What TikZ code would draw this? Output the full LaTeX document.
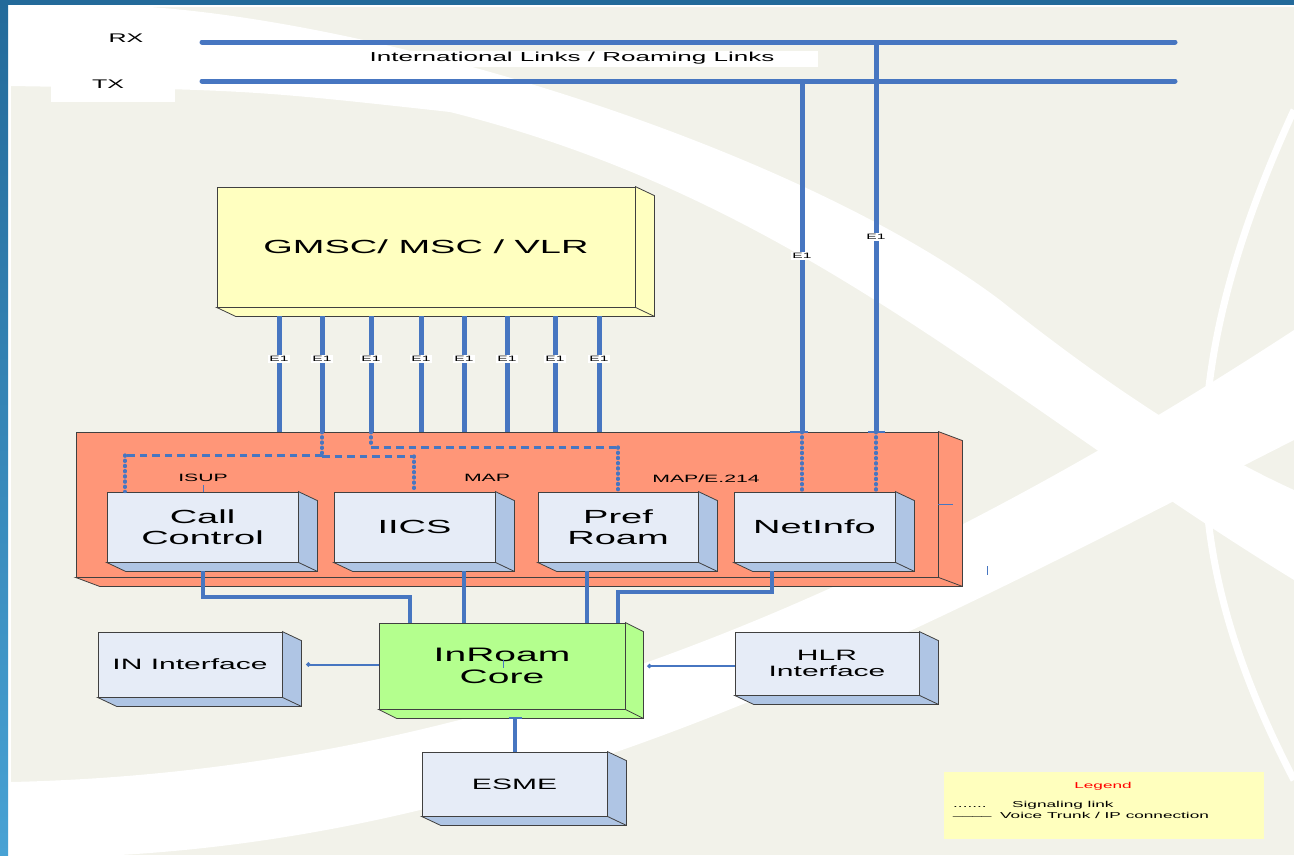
\documentclass[tikz,border=0pt]{standalone}
\usepackage{fontspec}
\setmainfont{Liberation Sans}[FakeStretch=2]
\usetikzlibrary{arrows.meta}
\definecolor{linkblue}{RGB}{71,118,193}
\definecolor{paper}{RGB}{242,242,234}
\definecolor{barblue}{RGB}{35,106,154}
\definecolor{barlight}{RGB}{72,162,212}
\definecolor{mscyellow}{RGB}{255,255,192}
\definecolor{salmon}{RGB}{255,150,120}
\definecolor{boxface}{RGB}{230,236,247}
\definecolor{boxside}{RGB}{175,197,228}
\definecolor{coregreen}{RGB}{180,255,142}
\definecolor{legendbg}{RGB}{255,255,190}
\newcommand{\sides}[3][19]{%
  \filldraw[fill=#3, draw=black!75, line width=0.8pt] (#2.north east) -- ([shift={(#1,9)}]#2.north east)
    -- ([shift={(#1,9)}]#2.south east) -- ([shift={(#1,9)}]#2.south west) -- (#2.south west) -- (#2.south east) -- cycle;
  \draw[black!75, line width=0.8pt] (#2.south east) -- ([shift={(#1,9)}]#2.south east);
  \coordinate (#2base) at ([yshift=-9pt]#2.south);}

\begin{document}
\begin{tikzpicture}[x=1pt,y=-1pt]
\tikzstyle{face}=[draw=black!75, line width=0.8pt, inner sep=0pt, align=center]
\tikzstyle{trunk}=[draw=linkblue, line width=5pt, line cap=round]
\tikzstyle{voice}=[draw=linkblue, line width=4pt]
\tikzstyle{thinlink}=[draw=linkblue, line width=2pt]
\tikzstyle{sigdot}=[draw=linkblue, line width=3.2pt, line cap=round, dash pattern=on 1.2pt off 4pt]
\tikzstyle{sigdash}=[draw=linkblue, line width=3pt, dash pattern=on 7.5pt off 5pt]
\tikzstyle{elabel}=[fill=white, inner sep=1.2pt, font=\fontsize{7.8}{8}\selectfont]
\tikzstyle{proto}=[font=\fontsize{10.6}{12}\selectfont]
\tikzstyle{bigtext}=[font=\fontsize{19}{21.5}\selectfont]
\tikzstyle{smalltext}=[font=\fontsize{15}{16.5}\selectfont]
\tikzstyle{note}=[font=\fontsize{8.6}{10}\selectfont, inner sep=0pt]
\tikzstyle{tick}=[draw=linkblue, line width=1pt]

\useasboundingbox (0,0) rectangle (1294,855);
\begin{scope}
\clip (0,0) rectangle (1294,855);
\fill[white] (0,0) rectangle (1294,855);
\fill[paper] (11,7) rectangle (1294,855);
\fill[white] (11,7) -- (150,7) .. controls (400,25) and (800,150) .. (1000,300)
  .. controls (1150,420) and (1250,470) .. (1294,490) -- (1294,580)
  .. controls (1000,400) and (800,200) .. (450,112) .. controls (250,90) .. (11,86) -- cycle;
\fill[white] (11,782) .. controls (450,772) and (850,620) .. (1294,330) -- (1294,440)
  .. controls (900,640) and (550,830) .. (120,855) -- (11,855) -- cycle;
\draw[white, line width=7pt] (1294,110) .. controls (1170,380) and (1180,560) .. (1294,780);
\fill[barblue] (0,0) rectangle (1294,5);
\shade[top color=barblue, bottom color=barlight] (0,0) rectangle (8,855);
\end{scope}

\fill[white] (51,80) rectangle (175,102);
\fill[white] (360,51) rectangle (818,67);
\node[font=\fontsize{12.5}{14}\selectfont] (rx) at (126,38) {RX};
\node[font=\fontsize{12.5}{14}\selectfont] (tx) at (108,84) {TX};
\node[font=\fontsize{13}{15}\selectfont] (intl) at (572,58) {International Links / Roaming Links};
\coordinate (rxw) at (202,42);
\coordinate (rxe) at (1175,42);
\coordinate (txw) at (202,81);
\coordinate (txe) at (1175,81);
\draw[trunk] (rxw) -- (rxe);
\draw[trunk] (txw) -- (txe);

\node[face, fill=mscyellow, minimum width=418, minimum height=120, font=\fontsize{19}{22}\selectfont] (gmsc) at (426,247) {GMSC/ MSC / VLR};
\sides{gmsc}{mscyellow}
\node[face, fill=salmon, minimum width=862, minimum height=145] (netbox) at (507,504.5) {};
\sides[24]{netbox}{salmon}

\foreach \name/\x/\w/\txt in {call/202.5/191/{Call\\Control}, iics/414.5/161/IICS, pref/618/160/{Pref\\Roam}, netinfo/814.5/161/NetInfo} {
  \node[face, bigtext, fill=boxface, minimum width=\w, minimum height=70] (\name) at (\x,527) {\txt};
  \sides{\name}{boxside}
}

\node[proto] (isup) at (203,478) {ISUP};
\node[proto] (map) at (487,478) {MAP};
\node[proto] (mape) at (706,479) {MAP/E.214};
\draw[tick] (isup.south) -- (call.north -| isup.south);

\foreach \x in {279,322,371,421,464,507,555,599} {
  \draw[trunk, line cap=butt] (gmscbase -| \x,0) -- (netbox.north -| \x,0) node[elabel, pos=.37] {E1};
}
\draw[trunk, line cap=butt] (txw -| 802,0) -- (netbox.north -| 802,0) node[elabel, pos=.5] {E1};
\draw[trunk, line cap=butt] (rxw -| 876,0) -- (netbox.north -| 876,0) node[elabel, pos=.5] {E1};
\draw[thinlink] ([xshift=-12pt]netbox.north -| 802,0) -- ++(18,0);
\draw[thinlink] ([xshift=-8pt]netbox.north -| 876,0) -- ++(17,0);

\draw[sigdot] (netbox.north -| 322,0) -- (322,455);
\draw[sigdash] (322,455) -- (125,455);
\draw[sigdot] (125,455) -- (call.north -| 125,0);
\draw[sigdash] (322,456) -- (414,456);
\draw[sigdot] (414,456) -- (iics.north -| 414,0);
\draw[sigdot] (netbox.north -| 371,0) -- (371,447);
\draw[sigdash] (371,447) -- (618,447);
\draw[sigdot] (618,447) -- (pref.north);
\draw[sigdot] (netbox.north -| 802,0) -- (netinfo.north -| 802,0);
\draw[sigdot] (netbox.north -| 876,0) -- (netinfo.north -| 876,0);
\draw[tick] (938,504) -- (953,504);
\draw[tick] (987,566) -- (987,575);

\node[face, fill=coregreen, minimum width=246, minimum height=86, font=\fontsize{19.5}{22}\selectfont] (inroam) at (502,666) {InRoam\\Core};
\sides[18]{inroam}{coregreen}
\draw[tick, line width=0.6pt] (503,660) -- (503,668);
\node[face, smalltext, fill=boxface, minimum width=184, minimum height=65] (ininf) at (190,664.5) {IN Interface};
\sides{ininf}{boxside}
\node[face, smalltext, fill=boxface, minimum width=184, minimum height=63] (hlr) at (827,663.5) {HLR\\Interface};
\sides{hlr}{boxside}
\node[face, smalltext, fill=boxface, minimum width=185, minimum height=64] (esme) at (514.5,784) {ESME};
\sides{esme}{boxside}

\draw[voice] (callbase) |- (410,597) -- (inroam.north -| 410,0);
\draw[voice] (iicsbase -| 464,0) -- (inroam.north -| 464,0);
\draw[voice] (prefbase -| 587,0) -- (inroam.north -| 587,0);
\draw[voice] (netinfobase -| 772,0) |- (618,592) -- (inroam.north -| 618,0);
\draw[thinlink, {Circle[length=4pt]}-] ([xshift=24pt]ininf.east) -- (ininf.east -| inroam.west);
\draw[thinlink, {Circle[length=4pt]}-] ([xshift=22pt]inroam.east) -- (inroam.east -| hlr.west);
\draw[voice] (inroambase -| esme.north) -- (esme.north);
\draw[thinlink] ([xshift=-6pt]inroambase -| esme.north) -- ++(13,0);

\fill[legendbg] (944,772) rectangle (1264,839);
\node[note, text=red] (legtitle) at (1103,786) {Legend};
\node[note, anchor=west] (sigdots) at (953,807) {.......};
\node[note, anchor=west] (siglink) at (1012,805) {Signaling link};
\node[note, anchor=west] (voiceline) at (953,816) {\_\_\_\_};
\node[note, anchor=west] (voicelink) at (1000,815) {Voice Trunk / IP connection};
\end{tikzpicture}
\end{document}
